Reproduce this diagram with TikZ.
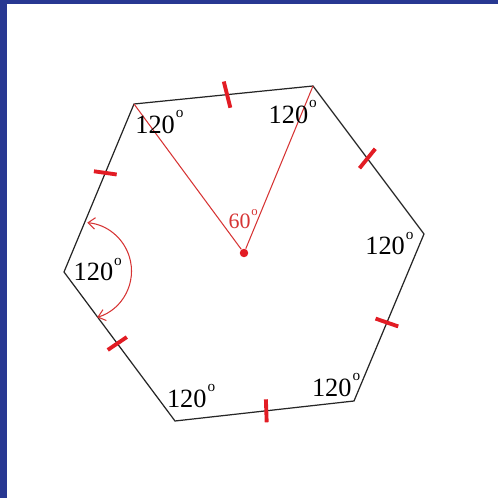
\documentclass[tikz,border=0pt]{standalone}
\usepackage{fontspec}
\setmainfont{Liberation Serif}
\usetikzlibrary{calc,arrows.meta}
\definecolor{frameblue}{RGB}{40,56,146}
\definecolor{markred}{RGB}{226,28,36}
\definecolor{linered}{RGB}{214,52,52}
\newcommand{\degsym}{\kern0.04em\raisebox{0.6em}{\scalebox{0.58}{o}}}

\begin{document}
\begin{tikzpicture}[x=0.02cm,y=0.02cm,
    side/.style={draw=black!85, line width=0.7pt},
    eqmark/.style={draw=markred, line width=2.2pt},
    radline/.style={draw=linered, line width=0.6pt},
    anglearc/.style={draw=linered, line width=0.6pt, <->, >={Straight Barb[length=4pt,width=6.5pt]}},
    centredot/.style={circle, fill=markred, inner sep=0pt, minimum size=0.17cm},
    anglab/.style={anchor=base west, inner sep=0pt, font=\fontsize{15}{18}\selectfont},
    smalllab/.style={anchor=base west, inner sep=0pt, text=linered, font=\fontsize{12.5}{15}\selectfont}]

        \useasboundingbox (0,0) rectangle (498,498);
        \fill[frameblue] (0,494) rectangle (498,498);
        \fill[frameblue] (0,0) rectangle (7,498);

        % Vertices
        \coordinate (A) at (134,394);
        \coordinate (B) at (313,412);
        \coordinate (C) at (424,264);
        \coordinate (D) at (354,97);
        \coordinate (E) at (175,77);
        \coordinate (F) at (64,226);
        \coordinate (K) at (83,227);
        \node[centredot] (O) at (244,245) {};

        % Hexagon
        \draw[side] (A) -- (B) -- (C) -- (D) -- (E) -- (F) -- cycle;

        % Equal side marks
        \coordinate (mAB) at ($(A)!0.52!(B)$);
        \coordinate (mBC) at ($(B)!0.49!(C)$);
        \coordinate (mCD) at ($(C)!0.53!(D)$);
        \coordinate (mDE) at ($(D)!0.49!(E)$);
        \coordinate (mEF) at ($(E)!0.52!(F)$);
        \coordinate (mFA) at ($(F)!0.59!(A)$);
        \draw[eqmark] ($(mAB)+(-76:0.27cm)$) -- ($(mAB)+(104:0.27cm)$);
        \draw[eqmark] ($(mBC)+(51:0.25cm)$) -- ($(mBC)+(231:0.25cm)$);
        \draw[eqmark] ($(mCD)+(-19:0.24cm)$) -- ($(mCD)+(161:0.24cm)$);
        \draw[eqmark] ($(mDE)+(-88:0.23cm)$) -- ($(mDE)+(92:0.23cm)$);
        \draw[eqmark] ($(mEF)+(34:0.23cm)$) -- ($(mEF)+(214:0.23cm)$);
        \draw[eqmark] ($(mFA)+(-8:0.23cm)$) -- ($(mFA)+(172:0.23cm)$);

        % Central angle
        \draw[radline] (O) -- (A);
        \draw[radline] (O) -- (B);
        \draw[anglearc] ($(K)+(-73:0.97cm)$) arc[start angle=-73, end angle=85, radius=0.97cm];

        % Labels
        \node[anglab] (lA) at (135,364.7) {120\degsym};
        \node[anglab] (lB) at (268.3,374.7) {120\degsym};
        \node[anglab] (lC) at (365,243) {120\degsym};
        \node[anglab] (lD) at (311.7,101.3) {120\degsym};
        \node[anglab] (lE) at (166.7,90.3) {120\degsym};
        \node[anglab] (lF) at (73.3,217) {120\degsym};
        \node[smalllab] (lO) at (228.3,269.7) {60\degsym};
\end{tikzpicture}
\end{document}
